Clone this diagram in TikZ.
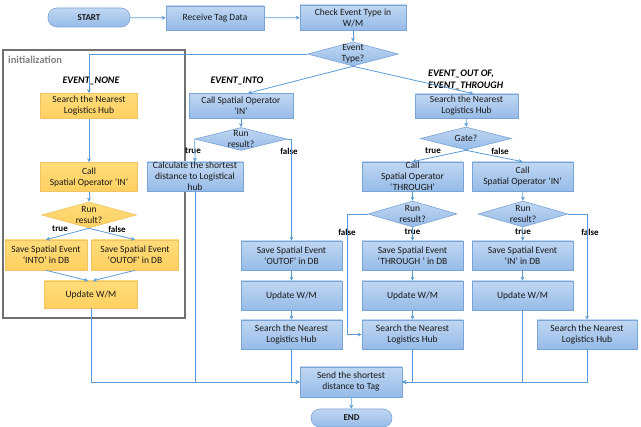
\documentclass[tikz,border=0pt]{standalone}
\usepackage{fontspec}
\setmainfont{Carlito}
\usetikzlibrary{shapes.geometric,arrows.meta,calc}
\definecolor{bfillA}{RGB}{192,215,242}
\definecolor{bfillB}{RGB}{150,187,231}
\definecolor{bdraw}{RGB}{122,164,214}
\definecolor{yfillA}{RGB}{255,220,122}
\definecolor{yfillB}{RGB}{255,208,96}
\definecolor{ydraw}{RGB}{242,194,100}
\definecolor{arr}{RGB}{91,155,213}
\definecolor{txt}{RGB}{25,25,25}
\definecolor{gframe}{RGB}{112,112,112}
\definecolor{glabel}{RGB}{128,128,128}
\begin{document}
\begin{tikzpicture}[x=1pt,y=-1pt,
  box/.style={rectangle, draw=bdraw, line width=0.6pt, top color=bfillA, bottom color=bfillB,
    inner sep=0pt, align=center, text=txt, font=\fontsize{9.5}{11}\selectfont},
  ybox/.style={box, draw=ydraw, top color=yfillA, bottom color=yfillB},
  term/.style={box, rounded corners=9pt, font=\bfseries\fontsize{9}{11}\selectfont},
  dia/.style={diamond, draw=bdraw, line width=0.6pt, top color=bfillA, bottom color=bfillB, inner sep=0pt},
  ydia/.style={dia, draw=ydraw, top color=yfillA, bottom color=yfillB},
  dtxt/.style={align=center, inner sep=0pt, text=txt, font=\fontsize{9.5}{11}\selectfont},
  evlab/.style={inner sep=0pt, font=\bfseries\itshape\fontsize{10}{11.5}\selectfont},
  tf/.style={inner sep=0pt, font=\bfseries\fontsize{9}{10}\selectfont},
  conn/.style={draw=arr, line width=0.8pt, -{Stealth[length=4pt,width=4pt]}},
  line/.style={draw=arr, line width=0.8pt}
]
\useasboundingbox (0,0) rectangle (641,427);

% initialization frame
\node[draw=gframe, line width=1.6pt, minimum width=182pt, minimum height=268pt, inner sep=0pt] (init) at (94,184) {};
\node[anchor=west, inner sep=0pt, text=glabel, font=\bfseries\fontsize{10.5}{12}\selectfont] (initlab) at (8,60) {initialization};

% top row
\node[term, minimum width=82pt, minimum height=19pt] (start) at (89,17.5) {START};
\node[box, minimum width=98pt, minimum height=24pt] (recv) at (215,18) {Receive Tag Data};
\node[box, minimum width=106pt, minimum height=25pt] (check) at (353,17.5) {Check Event Type in\\W/M};
\node[dia, minimum width=91pt, minimum height=24pt] (etype) at (353,54) {};
\node[dtxt] (etypeT) at (etype) {Event\\Type?};

% EVENT_NONE column (initialization)
\node[evlab] (lnone) at (91,81) {EVENT\_NONE};
\node[ybox, minimum width=97pt, minimum height=25pt] (y1) at (89,106) {Search the Nearest\\Logistics Hub};
\node[ybox, minimum width=97pt, minimum height=29pt] (y2) at (89,177) {Call\\Spatial Operator ‘IN’};
\node[ydia, minimum width=95pt, minimum height=26pt] (yd) at (89,215) {};
\node[dtxt] (ydT) at (yd) {Run\\result?};
\node[ybox, minimum width=82pt, minimum height=30pt] (y3) at (46,255) {Save Spatial Event\\‘INTO’ in DB};
\node[ybox, minimum width=87pt, minimum height=30pt] (y4) at (135,255) {Save Spatial Event\\‘OUTOF’ in DB};
\node[ybox, minimum width=93pt, minimum height=27pt] (y5) at (91,294.5) {Update W/M};
\node[tf] (ytrue) at (60,229) {true};
\node[tf] (yfalse) at (117,229) {false};

% EVENT_INTO column
\node[evlab] (linto) at (237,81) {EVENT\_INTO};
\node[box, minimum width=104pt, minimum height=25pt] (b1) at (241,106) {Call Spatial Operator\\‘IN’};
\node[dia, minimum width=92pt, minimum height=23pt] (bd1) at (241,139) {};
\node[dtxt] (bd1T) at (bd1) {Run\\result?};
\node[box, minimum width=96pt, minimum height=29pt] (calc) at (195,176.5) {Calculate the shortest\\distance to Logistical\\hub};
\node[tf] (btrue) at (193,151) {true};
\node[tf] (bfalse) at (289,151) {false};
\node[box, minimum width=101pt, minimum height=29pt] (b2) at (291.5,255.5) {Save Spatial Event\\‘OUTOF’ in DB};
\node[box, minimum width=101pt, minimum height=29pt] (b3) at (291.5,295.5) {Update W/M};
\node[box, minimum width=101pt, minimum height=29pt] (b4) at (291.5,334.5) {Search the Nearest\\Logistics Hub};

% EVENT_OUT OF / THROUGH column
\node[evlab, anchor=north west, align=left] (lout) at (428,70) {EVENT\_OUT OF,\\EVENT\_THROUGH};
\node[box, minimum width=103pt, minimum height=24pt] (c1) at (466.5,106) {Search the Nearest\\Logistics Hub};
\node[dia, minimum width=91pt, minimum height=23pt] (gate) at (466,138.5) {};
\node[dtxt] (gateT) at (gate) {Gate?};
\node[tf] (gtrue) at (433,151) {true};
\node[tf] (gfalse) at (500,151) {false};
\node[box, minimum width=101pt, minimum height=29pt] (c2) at (412.5,176.5) {Call\\Spatial Operator\\‘THROUGH’};
\node[box, minimum width=101pt, minimum height=29pt] (c3) at (522.5,176.5) {Call\\Spatial Operator ‘IN’};
\node[dia, minimum width=89pt, minimum height=26pt] (cd1) at (412.5,214) {};
\node[dtxt] (cd1T) at (cd1) {Run\\result?};
\node[dia, minimum width=90pt, minimum height=26pt] (cd2) at (523,214) {};
\node[dtxt] (cd2T) at (cd2) {Run\\result?};
\node[tf] (c1true) at (412.5,231.5) {true};
\node[tf] (c2true) at (523,231.5) {true};
\node[tf] (c1false) at (347,232) {false};
\node[tf] (c2false) at (590,232) {false};
\node[box, minimum width=101pt, minimum height=29pt] (c4) at (412.5,255.5) {Save Spatial Event\\‘THROUGH ’ in DB};
\node[box, minimum width=101pt, minimum height=29pt] (c5) at (412.5,295.5) {Update W/M};
\node[box, minimum width=101pt, minimum height=29pt] (c6) at (412.5,334.5) {Search the Nearest\\Logistics Hub};
\node[box, minimum width=101pt, minimum height=29pt] (c7) at (522.5,255.5) {Save Spatial Event\\‘IN’ in DB};
\node[box, minimum width=101pt, minimum height=29pt] (c8) at (522.5,295.5) {Update W/M};
\node[box, minimum width=100pt, minimum height=29pt] (c9) at (587,334.5) {Search the Nearest\\Logistics Hub};

% bottom
\node[box, minimum width=102pt, minimum height=30pt] (send) at (351,382) {Send the shortest\\distance to Tag};
\node[term, minimum width=81pt, minimum height=18pt] (end) at (351.5,418) {END};

\coordinate (k1) at (347,214);

% connectors
\path[conn] (start) -- (recv);
\path[conn] (recv) -- (check);
\path[conn] (check) -- (etype);
\path[conn] (etype.west) -| (y1.north);
\path[conn] (etype.south) -- ([xshift=7pt]b1.north);
\path[conn] (etype.south) -- ([xshift=7pt]c1.north);

\path[conn] (y1) -- (y2);
\path[conn] (y2) -- (yd);
\path[conn] (yd.south) -- (y3.north);
\path[conn] (yd.south) -- (y4.north);
\path[conn] (y3.south) -- ([xshift=-3pt]y5.north);
\path[conn] (y4.south) -- ([xshift=2pt]y5.north);
\path[conn] (y5.south) |- (send.west);

\path[conn] (b1) -- (bd1);
\path[conn] (bd1.west) -- (calc.north);
\path[conn] (bd1.east) -| (b2.north);
\path[conn] (calc.south) |- (send.west);
\path[conn] (b2) -- (b3);
\path[conn] (b3) -- (b4);
\path[conn] (b4.south) |- (send.west);

\path[conn] (c1) -- (gate);
\path[conn] (gate.south) -- (c2.north);
\path[conn] (gate.south) -- (c3.north);
\path[conn] (c2) -- (cd1);
\path[conn] (c3) -- (cd2);
\path[conn] (cd1) -- (c4);
\path[conn] (cd2) -- (c7);
\path[conn] (c4) -- (c5);
\path[conn] (c5) -- (c6);
\path[conn] (c7) -- (c8);
\path[line] (cd1.west) -- (k1);
\path[conn] (k1) |- (c6.west);
\path[conn] (cd2.east) -| (c9.north);
\path[conn] (c6.south) |- (send.east);
\path[conn] (c8.south) |- (send.east);
\path[conn] (c9.south) |- (send.east);
\path[conn] (send) -- (end);
\end{tikzpicture}
\end{document}
